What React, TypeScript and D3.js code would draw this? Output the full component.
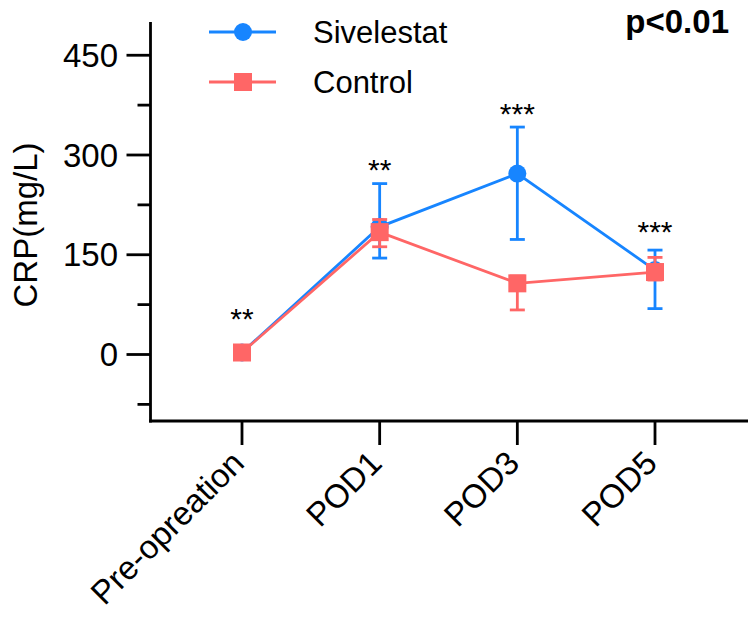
import React from "react";
import * as d3 from "d3";

const categories = ["Pre-opreation", "POD1", "POD3", "POD5"];
const sivelestatMean = [3, 192, 272, 127];
const sivelestatLow = [1, 145, 173, 69];
const sivelestatHigh = [5, 257, 342, 157];
const controlMean = [3, 184, 107, 124];
const controlLow = [1, 162, 67, 112];
const controlHigh = [5, 203, 118, 146];
const starLabels = ["**", "**", "***", "***"];
const starValues = [64, 288, 372, 195];
const majorTicks = [0, 150, 300, 450];
const minorTicks = [-75, 75, 225, 375];

const BLUE = "#1785FF";
const RED = "#FF6666";
const FONT = "'Liberation Sans', Arial, Helvetica, sans-serif";

export default function App() {
  const W = 750, H = 626;
  const x = d3.scalePoint<string>().domain(categories).range([242, 655]);
  const y = d3.scaleLinear().domain([-100, 500]).range([421, 22]);
  const axisX = 150.5;
  const axisY = 421;

  const lineGen = d3
    .line<number>()
    .x((_, i) => x(categories[i]) as number)
    .y((d) => y(d));

  const errorBars = (low: number[], high: number[], color: string) =>
    categories.map((c, i) => {
      const cx = x(c) as number;
      return (
        <g key={"e" + i} stroke={color} strokeWidth={2.8}>
          <line x1={cx} x2={cx} y1={y(low[i])} y2={y(high[i])} />
          <line x1={cx - 7.5} x2={cx + 7.5} y1={y(low[i])} y2={y(low[i])} />
          <line x1={cx - 7.5} x2={cx + 7.5} y1={y(high[i])} y2={y(high[i])} />
        </g>
      );
    });

  return (
    <svg
      width={W}
      height={H}
      style={{ position: "fixed", left: 0, top: 0, background: "#fff" }}
      fontFamily={FONT}
    >
      <rect width={W} height={H} fill="#fff" />
      {/* axes */}
      <g stroke="#000" strokeWidth={2.8} fill="none">
        <line x1={axisX} x2={axisX} y1={22} y2={axisY + 1.4} />
        <line x1={axisX - 1.4} x2={748} y1={axisY} y2={axisY} />
        {majorTicks.map((t) => (
          <line key={"M" + t} x1={axisX - 24} x2={axisX} y1={y(t)} y2={y(t)} />
        ))}
        {minorTicks.map((t) => (
          <line key={"m" + t} x1={axisX - 13} x2={axisX} y1={y(t)} y2={y(t)} />
        ))}
        {categories.map((c) => (
          <line key={"xt" + c} x1={x(c)} x2={x(c)} y1={axisY} y2={axisY + 24} />
        ))}
      </g>
      {majorTicks.map((t) => (
        <text
          key={"ML" + t}
          x={118}
          y={y(t) + 11.5}
          textAnchor="end"
          fontSize={33}
          fill="#000"
        >
          {t}
        </text>
      ))}
      {categories.map((c) => (
        <text
          key={"xl" + c}
          transform={`translate(${(x(c) as number) + 4},${465}) rotate(-45)`}
          textAnchor="end"
          fontSize={33}
          fill="#000"
        >
          {c}
        </text>
      ))}
      <text
        transform={`translate(37,225) rotate(-90)`}
        textAnchor="middle"
        fontSize={33}
        fill="#000"
      >
        CRP(mg/L)
      </text>

      {/* Sivelestat */}
      {errorBars(sivelestatLow, sivelestatHigh, BLUE)}
      <path d={lineGen(sivelestatMean) || ""} fill="none" stroke={BLUE} strokeWidth={2.8} />
      {sivelestatMean.map((v, i) => (
        <circle key={"c" + i} cx={x(categories[i])} cy={y(v)} r={9} fill={BLUE} />
      ))}

      {/* Control */}
      {errorBars(controlLow, controlHigh, RED)}
      <path d={lineGen(controlMean) || ""} fill="none" stroke={RED} strokeWidth={2.8} />
      {controlMean.map((v, i) => (
        <rect
          key={"s" + i}
          x={(x(categories[i]) as number) - 9}
          y={y(v) - 9}
          width={18}
          height={18}
          fill={RED}
        />
      ))}

      {/* significance */}
      {categories.map((c, i) => (
        <text
          key={"st" + i}
          x={x(c)}
          y={y(starValues[i]) + 17}
          textAnchor="middle"
          fontSize={30}
          fill="#000"
        >
          {starLabels[i]}
        </text>
      ))}

      {/* legend */}
      <line x1={209} x2={276} y1={32} y2={32} stroke={BLUE} strokeWidth={2.8} />
      <circle cx={243} cy={32} r={9} fill={BLUE} />
      <text x={313} y={43} fontSize={31} fill="#000">Sivelestat</text>
      <line x1={209} x2={276} y1={82} y2={82} stroke={RED} strokeWidth={2.8} />
      <rect x={234} y={73} width={18} height={18} fill={RED} />
      <text x={313} y={93} fontSize={31} fill="#000">Control</text>

      <text x={729} y={33} textAnchor="end" fontSize={33} fontWeight="bold" fill="#000">
        p&lt;0.01
      </text>
    </svg>
  );
}
